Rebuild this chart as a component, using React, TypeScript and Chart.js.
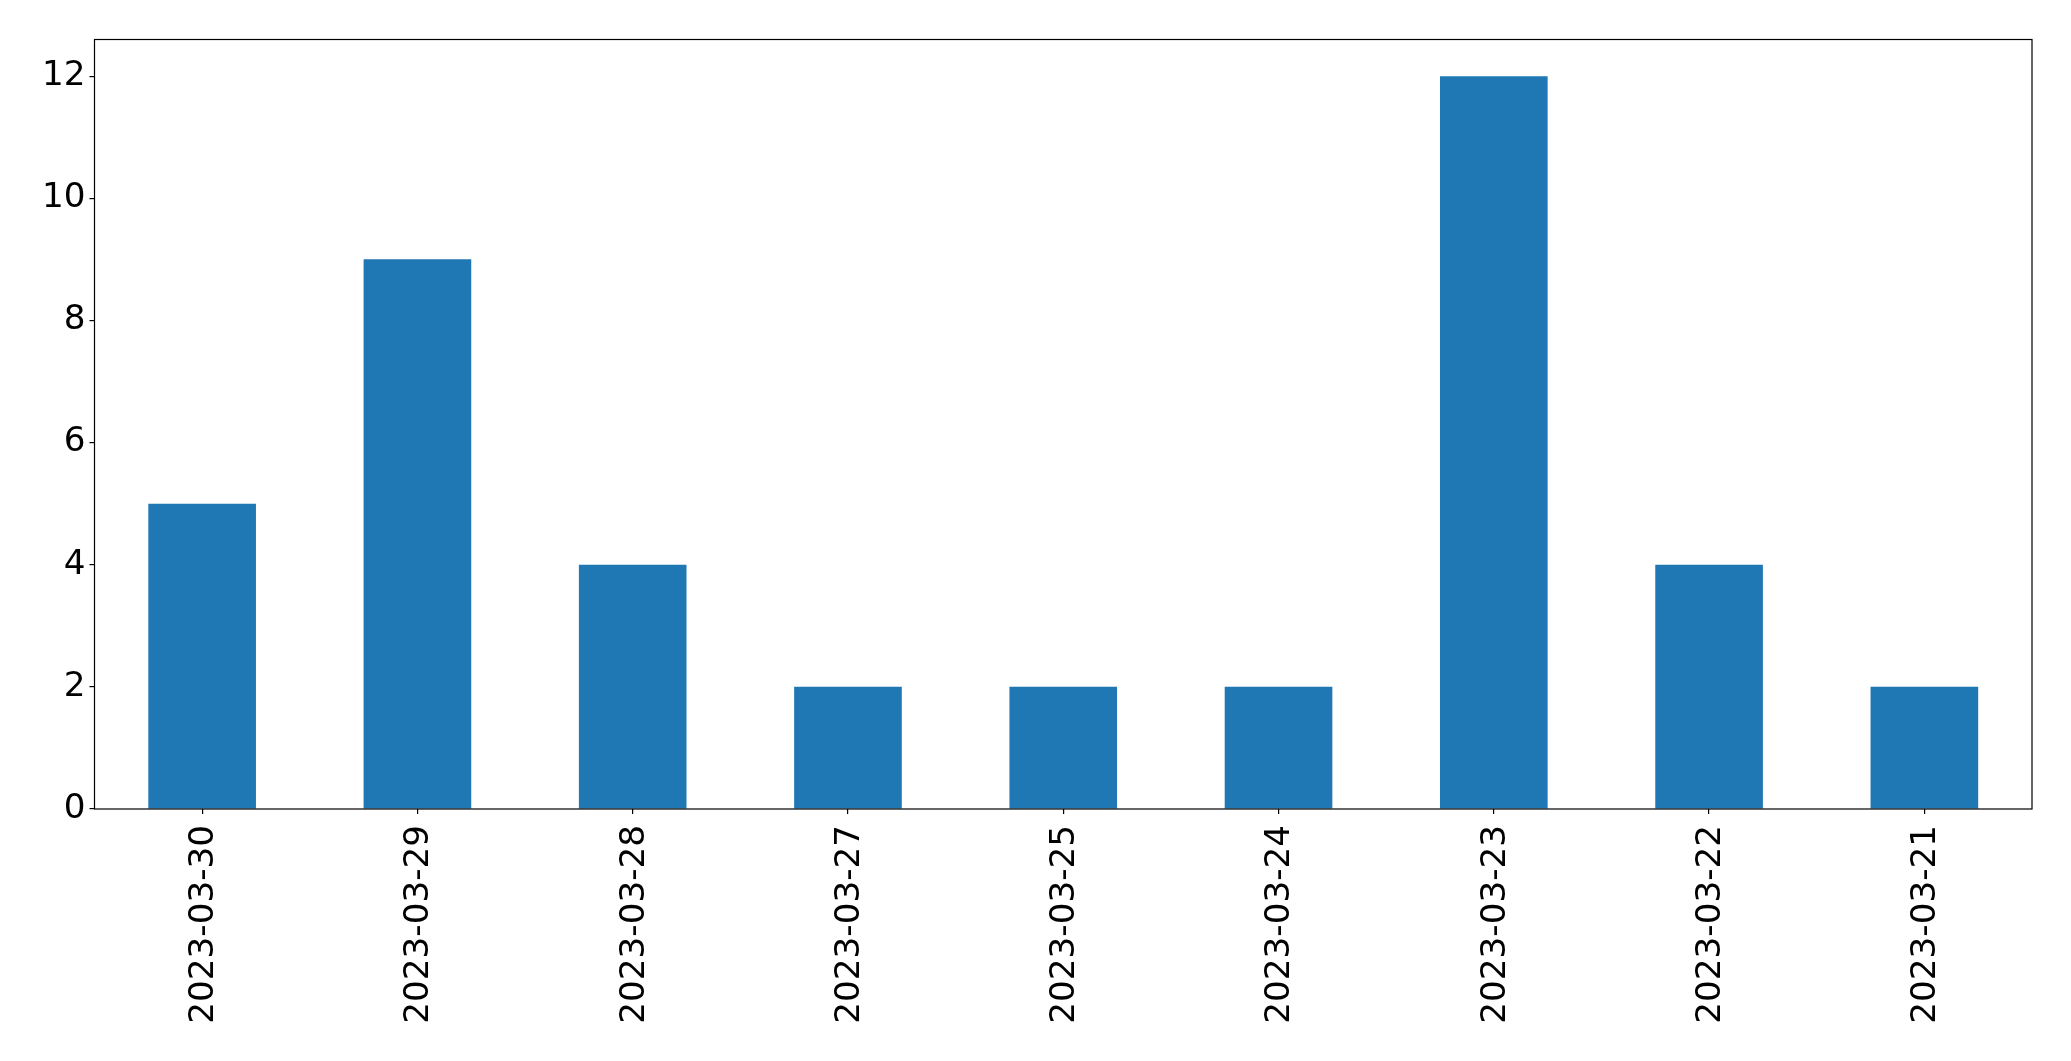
import React, { useEffect, useRef } from "react";
import { Chart, registerables } from "chart.js";

Chart.register(...registerables);

const categories = [
  "2023-03-30",
  "2023-03-29",
  "2023-03-28",
  "2023-03-27",
  "2023-03-25",
  "2023-03-24",
  "2023-03-23",
  "2023-03-22",
  "2023-03-21",
];
const counts = [5, 9, 4, 2, 2, 2, 12, 4, 2];
const yTicks = [0, 2, 4, 6, 8, 10, 12];
const yMax = 12.6;

const W = 2071;
const H = 1061;
const FONT = { family: "'DejaVu Sans', sans-serif", size: 34.2 };

const framePlugin = {
  id: "frame",
  afterDraw(chart: any) {
    const { ctx, chartArea } = chart;
    ctx.save();
    ctx.strokeStyle = "#000";
    ctx.lineWidth = 1.2;
    ctx.strokeRect(
      chartArea.left,
      chartArea.top,
      chartArea.right - chartArea.left,
      chartArea.bottom - chartArea.top
    );
    ctx.restore();
  },
};

export default function App() {
  const ref = useRef<HTMLCanvasElement | null>(null);
  useEffect(() => {
    if (!ref.current) return;
    const chart = new Chart(ref.current, {
      type: "bar",
      data: {
        labels: categories,
        datasets: [
          {
            data: counts,
            backgroundColor: "#1f77b4",
            borderWidth: 0,
            categoryPercentage: 1,
            barPercentage: 0.5,
          },
        ],
      },
      options: {
        responsive: false,
        animation: false,
        devicePixelRatio: 1,
        layout: { padding: { top: 39.5, right: 39, left: 0, bottom: 0 } },
        plugins: {
          legend: { display: false },
          tooltip: { enabled: false },
        },
        scales: {
          x: {
            type: "category",
            offset: true,
            border: { display: false },
            grid: {
              display: true,
              drawOnChartArea: false,
              drawTicks: true,
              tickLength: 5,
              color: "#000",
              lineWidth: 1.2,
              offset: false,
            },
            ticks: {
              minRotation: 90,
              maxRotation: 90,
              autoSkip: false,
              padding: 11,
              labelOffset: 2,
              color: "#000",
              font: FONT,
            },
            afterFit(axis: any) {
              axis.height = H - 809;
            },
          },
          y: {
            min: 0,
            max: yMax,
            border: { display: false },
            grid: {
              display: true,
              drawOnChartArea: false,
              drawTicks: true,
              tickLength: 5,
              color: "#000",
              lineWidth: 1.2,
            },
            ticks: {
              padding: 4,
              color: "#000",
              font: FONT,
            },
            afterBuildTicks(axis: any) {
              axis.ticks = yTicks.map((v) => ({ value: v }));
            },
            afterFit(axis: any) {
              axis.width = 94.5;
            },
          },
        },
      },
      plugins: [framePlugin],
    });
    return () => chart.destroy();
  }, []);
  return (
    <div style={{ position: "fixed", left: 0, top: 0, width: W, height: H, background: "#fff" }}>
      <canvas ref={ref} width={W} height={H} style={{ width: W, height: H, display: "block" }} />
    </div>
  );
}
